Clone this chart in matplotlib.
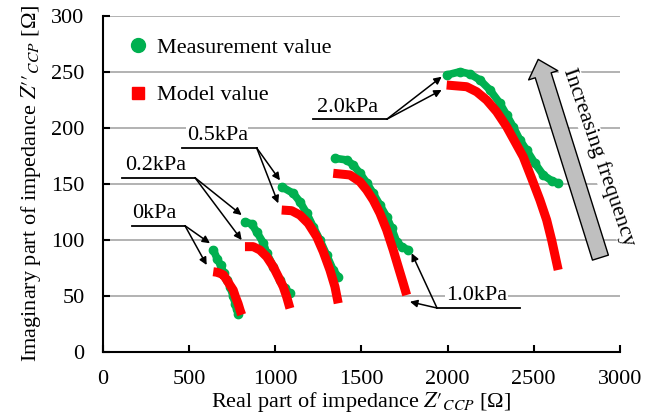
import matplotlib
matplotlib.use("Agg")
import matplotlib.pyplot as plt
from matplotlib.lines import Line2D
from matplotlib.patches import FancyArrowPatch

plt.rcParams['font.family'] = ['Liberation Serif', 'DejaVu Serif']
plt.rcParams['mathtext.fontset'] = 'stix'

GREEN = '#00b050'
RED = '#ff0000'
FS = 16

# ---- data ----
meas_0_x = [641, 664, 684, 703, 720, 739, 755, 768, 777, 786]
meas_0_y = [91, 83, 77, 70, 64, 58, 50, 43, 38, 34]
model_0_x = [641, 660, 680, 700, 720, 740, 757, 770, 785, 797, 806]
model_0_y = [71.4, 71, 70, 68.5, 64, 59, 55, 49, 43, 37, 33]

meas_02_x = [825, 864, 893, 932, 951, 990, 1028, 1057, 1086]
meas_02_y = [116, 114, 107, 97, 88, 76, 64, 56.6, 52]
model_02_x = [825, 873, 912, 951, 989, 1028, 1047, 1067, 1086]
model_02_y = [93.8, 93.8, 90.8, 84.8, 75.9, 64, 58, 49, 38.7]

meas_05_x = [1038, 1105, 1144, 1183, 1221, 1260, 1299, 1337, 1366]
meas_05_y = [147.3, 141.4, 133.9, 123.6, 111.6, 99.7, 86.3, 72.9, 67]
model_05_x = [1038, 1096, 1144, 1192, 1241, 1279, 1318, 1347, 1366]
model_05_y = [126.5, 125.9, 122, 114.6, 102.7, 89.3, 72.9, 58, 43.2]

meas_10_x = [1347, 1415, 1453, 1492, 1531, 1569, 1608, 1647, 1676, 1705, 1734, 1772]
meas_10_y = [172.7, 171.2, 166.7, 159.3, 150.9, 141.4, 131, 120.5, 110.2, 98.2, 93.8, 90.8]
model_10_x = [1337, 1434, 1492, 1531, 1569, 1608, 1647, 1685, 1714, 1743, 1763]
model_10_y = [159.3, 157.8, 151.8, 144.4, 135.4, 123.6, 108.7, 90.8, 75.9, 61.1, 50.6]

meas_20_x = [1995, 2072, 2130, 2188, 2246, 2304, 2343, 2381, 2420, 2459, 2507, 2555, 2604, 2642]
meas_20_y = [247, 250, 248, 242.6, 233.7, 221.8, 211.3, 200.9, 189, 180, 168.2, 157.8, 152.7, 150.4]
model_20_x = [1995, 2111, 2169, 2227, 2285, 2343, 2391, 2439, 2488, 2536, 2575, 2604, 2642]
model_20_y = [238.1, 236.6, 232.1, 224.7, 214.3, 200.9, 187.5, 174.1, 154.8, 135.4, 117.6, 99.7, 73]

meas_series = [(meas_0_x, meas_0_y), (meas_02_x, meas_02_y), (meas_05_x, meas_05_y),
               (meas_10_x, meas_10_y), (meas_20_x, meas_20_y)]
model_series = [(model_0_x, model_0_y), (model_02_x, model_02_y), (model_05_x, model_05_y),
                (model_10_x, model_10_y), (model_20_x, model_20_y)]

x_ticks = [0, 500, 1000, 1500, 2000, 2500, 3000]
y_ticks = [0, 50, 100, 150, 200, 250, 300]

# ---- figure ----
fig = plt.figure(figsize=(6.56, 4.20), dpi=100)
ax = fig.add_axes([0.1566, 0.1626, 0.945 - 0.1566, 0.9626 - 0.1626])

ax.set_xlim(0, 3000)
ax.set_ylim(0, 300)
ax.set_xticks(x_ticks)
ax.set_yticks(y_ticks)
ax.yaxis.grid(True, color='#a6a6a6', linewidth=1.2)
ax.set_axisbelow(True)
for s in ['top', 'right']:
    ax.spines[s].set_visible(False)
for s in ['left', 'bottom']:
    ax.spines[s].set_linewidth(1.5)
ax.tick_params(axis='both', direction='in', length=5, width=1.5, labelsize=FS)
ax.tick_params(axis='x', pad=13)
ax.tick_params(axis='y', pad=13)

for xs, ys in meas_series:
    ax.plot(xs, ys, color=GREEN, lw=5.5, solid_capstyle='round', zorder=3)
    ax.plot(xs, ys, 'o', color=GREEN, ms=6, zorder=3)
for xs, ys in model_series:
    ax.plot(xs, ys, color=RED, lw=6.5, solid_capstyle='butt', zorder=4)

ax.set_xlabel("Real part of impedance $Z\u2032_{CCP}$ [Ω]", fontsize=FS, labelpad=1)
ax.set_ylabel("Imaginary part of impedance $Z\u2032\u2032_{CCP}$ [Ω]", fontsize=FS, labelpad=6)

# legend
handles = [Line2D([], [], marker='o', ls='none', color=GREEN, ms=10),
           Line2D([], [], marker='s', ls='none', color=RED, ms=8.5)]
ax.legend(handles, ['Measurement value', 'Model value'], loc='upper left',
          bbox_to_anchor=(0.046, 0.935), frameon=False, fontsize=FS,
          labelspacing=1.2, handletextpad=0.35, borderpad=0, borderaxespad=0,
          handlelength=1.0)

# pressure labels with underline + arrows
arrow_kw = dict(arrowstyle='-|>', color='black', lw=1.1, mutation_scale=11,
                shrinkA=0, shrinkB=0)
bbox_w = dict(facecolor='white', edgecolor='none', pad=0.5)

labels = [
    # text, text_x, line_x0, line_x1, line_y, origin(x,y), targets
    ('0kPa', 168, 168, 477, 112.5, (477, 112.5), [(622, 96.8), (603, 77.4)]),
    ('0.2kPa', 128, 110, 535, 155.4, (535, 155.4), [(806, 122), (806, 99.7)]),
    ('0.5kPa', 487, 458, 893, 182, (893, 182), [(1028, 153), (1018, 132.5)]),
    ('2.0kPa', 1240, 1221, 1647, 207.5, (1647, 207.5), [(1966, 245.5), (1966, 233.7)]),
    ('1.0kPa', 1990, 1939, 2420, 39, (1939, 39), [(1792, 87.9), (1782, 44.6)]),
]
for txt, tx, x0, x1, ly, origin, targets in labels:
    ax.plot([x0, x1], [ly, ly], color='black', lw=1.3, zorder=5)
    ax.text(tx, ly + 2.5, txt, fontsize=FS, ha='left', va='bottom',
            bbox=bbox_w, zorder=5)
    for t in targets:
        ax.annotate('', xy=t, xytext=origin, arrowprops=arrow_kw, zorder=5)

# increasing frequency arrow
big = FancyArrowPatch((2887, 84), (2526, 261),
                      arrowstyle='simple,head_length=1.2,head_width=2.2,tail_width=1.2',
                      mutation_scale=10, facecolor='#bfbfbf', edgecolor='black',
                      lw=1.0, shrinkA=0, shrinkB=0, zorder=5)
ax.add_patch(big)
ax.text(2880, 174, 'Increasing frequency', fontsize=FS, rotation=-71,
        ha='center', va='center', rotation_mode='anchor',
        bbox=dict(facecolor='white', edgecolor='none', pad=0.5), zorder=5)

fig.savefig('out.png', dpi=100)
